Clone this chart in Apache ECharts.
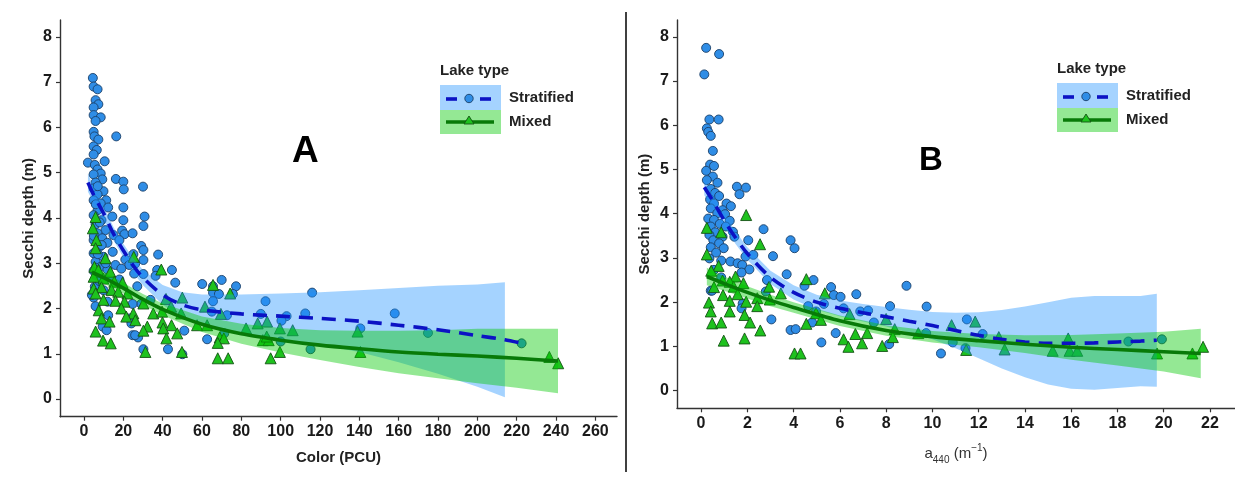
<!DOCTYPE html>
<html><head><meta charset="utf-8">
<script src="https://cdn.jsdelivr.net/npm/echarts@6/dist/echarts.min.js"></script>
<style>html,body{margin:0;padding:0;background:#fff;}#c{width:1235px;height:489px;}</style>
</head><body><div id="c"></div>
<script>
// ---------------- DATA ----------------
const xTicksA = [0,20,40,60,80,100,120,140,160,180,200,220,240,260];
const xTicksB = [0,2,4,6,8,10,12,14,16,18,20,22];
const yTicks = [0,1,2,3,4,5,6,7,8];
const legendTitle = 'Lake type';
const seriesNames = ['Stratified','Mixed'];

// Panel A: Color (PCU) vs Secchi depth
const stratifiedA = [[4.5,7.09],[4.9,6.9],[6.9,6.84],[5.9,6.6],[7.3,6.51],[4.9,6.44],[4.9,6.27],[8.5,6.22],[5.9,6.14],[16.4,5.8],[4.9,5.9],[5.3,5.8],[7.3,5.73],[4.9,5.58],[6.5,5.5],[4.9,5.4],[2.0,5.22],[10.5,5.25],[5.5,5.17],[6.9,5.07],[8.5,4.98],[4.9,4.96],[9.3,4.85],[16.2,4.86],[20,4.8],[20.2,4.63],[30,4.69],[5.9,4.78],[4.9,4.65],[9.9,4.59],[6.9,4.52],[11.3,4.39],[4.9,4.39],[8.5,4.32],[12.3,4.23],[20,4.23],[6.9,4.17],[4.9,4.06],[30.8,4.03],[14.4,4.03],[8.9,3.95],[20,3.95],[5.9,3.86],[30.2,3.82],[10.9,3.73],[19.4,3.72],[20.6,3.64],[24.7,3.66],[6.9,3.66],[15,3.62],[9.3,3.55],[4.9,3.51],[18,3.51],[11.9,3.45],[7.9,3.36],[29.1,3.38],[30.2,3.29],[14.6,3.25],[4.9,3.22],[25.1,3.2],[37.7,3.19],[9.9,3.14],[21,3.08],[30.2,3.07],[5.9,3.03],[16,2.96],[23,2.96],[26,2.99],[8.5,2.92],[19,2.88],[37.2,2.85],[44.7,2.85],[11.9,2.86],[4.9,2.83],[25.5,2.77],[30.2,2.76],[36.4,2.72],[6.9,2.69],[18,2.64],[46.4,2.57],[60.1,2.54],[70,2.63],[65.6,2.49],[77.3,2.49],[5.5,2.48],[27.1,2.49],[65.6,2.35],[68.6,2.32],[75.7,2.32],[116,2.35],[4.9,2.24],[33.8,2.19],[65.6,2.16],[92.3,2.16],[29.1,2.1],[24.7,2.1],[5.9,2.05],[65,1.93],[89.9,1.88],[72.7,1.85],[112.5,1.89],[103,1.83],[158,1.89],[12.3,1.85],[23.1,1.78],[100.4,1.73],[9.5,1.6],[24.1,1.67],[71.3,1.45],[174.9,1.46],[51,1.51],[24.7,1.41],[27.5,1.36],[62.6,1.32],[100,1.27],[30.2,1.1],[42.7,1.1],[115.2,1.1],[50,0.99],[222.5,1.23],[140.5,1.56],[7,4.7],[6,4.3],[8,3.9],[5,3.6],[9,3.4],[7,3.2],[11,3.0],[6,2.9],[13,2.7],[8,2.6],[10,2.4],[4,2.3],[12,2.15],[11.5,1.52],[26,1.41]];
const mixedA = [[5.9,4.02],[4.5,3.77],[6.3,3.51],[5.9,3.33],[10.9,3.11],[25.3,3.14],[5.3,2.92],[7.3,2.85],[39.3,2.86],[13.4,2.81],[4.9,2.7],[9.9,2.66],[15.4,2.59],[19.6,2.57],[4.9,2.44],[8.9,2.47],[65.6,2.52],[74.3,2.33],[14,2.41],[5.9,2.33],[17.4,2.37],[22.1,2.33],[41.7,2.21],[50,2.24],[9.9,2.19],[16,2.17],[20.6,2.15],[30.2,2.11],[44.3,2.04],[61.5,2.04],[7.5,1.96],[19,2.0],[25.1,1.89],[35.2,1.89],[49.4,1.89],[39.7,1.93],[69.6,1.88],[8.9,1.78],[21.5,1.82],[13,1.71],[26.1,1.74],[39.9,1.69],[44.5,1.63],[57.5,1.63],[62.6,1.63],[32.2,1.6],[40.3,1.56],[30.2,1.51],[82.4,1.56],[88.3,1.67],[93.1,1.71],[99.6,1.56],[106.1,1.52],[5.9,1.49],[47.4,1.45],[41.9,1.34],[69,1.36],[71.1,1.34],[68,1.24],[90.9,1.3],[93.9,1.3],[92.9,1.38],[139.1,1.49],[9.7,1.29],[13.6,1.23],[31.2,1.04],[49.8,1.04],[99.6,1.04],[140.5,1.04],[68,0.9],[73.3,0.9],[94.9,0.9],[236.6,0.93],[241.1,0.79]];

// Panel A loess fits and confidence half-widths
const strRibbonXA = [2,5,10,15,20,25,30,40,50,60,80,100,120,140,160,180,200,214];
const strFitA     = [4.78,4.5,4.1,3.65,3.28,2.95,2.68,2.3,2.08,1.97,1.88,1.83,1.78,1.72,1.63,1.53,1.4,1.31];
const strHalfA    = [0.2,0.17,0.15,0.15,0.15,0.16,0.17,0.22,0.28,0.34,0.43,0.5,0.58,0.68,0.82,0.97,1.13,1.27];
const strLineXA   = [2,5,10,15,20,25,30,40,50,60,80,100,120,140,160,180,200,214,222.5];
const strLineYA   = [4.78,4.5,4.1,3.65,3.28,2.95,2.68,2.3,2.08,1.97,1.88,1.83,1.78,1.72,1.63,1.53,1.4,1.31,1.23];
const mixXA   = [4,10,20,30,40,60,80,100,120,140,160,180,200,220,241];
const mixFitA = [2.8,2.68,2.45,2.2,1.98,1.65,1.44,1.3,1.19,1.11,1.04,0.99,0.95,0.9,0.84];
const mixHalfA= [0.15,0.13,0.12,0.12,0.13,0.17,0.22,0.27,0.33,0.4,0.47,0.53,0.6,0.65,0.71];

// Panel B: a440 vs Secchi depth
const stratifiedB = [[0.22,7.75],[0.78,7.61],[0.14,7.15],[0.36,6.13],[0.76,6.13],[0.25,5.93],[0.31,5.85],[0.42,5.76],[0.51,5.42],[0.39,5.11],[0.56,5.08],[0.22,4.97],[0.51,4.84],[0.25,4.76],[0.71,4.7],[1.55,4.61],[1.94,4.59],[1.66,4.44],[0.42,4.56],[0.61,4.47],[0.78,4.4],[0.39,4.32],[0.56,4.23],[1.1,4.23],[1.29,4.17],[0.42,4.12],[0.93,4.08],[0.7,4.01],[1.04,3.99],[0.31,3.89],[0.56,3.86],[1.24,3.84],[0.81,3.77],[0.42,3.71],[1.07,3.71],[2.7,3.65],[1.38,3.59],[0.61,3.58],[0.36,3.52],[0.93,3.48],[1.44,3.48],[0.53,3.4],[2.04,3.4],[3.87,3.4],[4.04,3.22],[0.78,3.33],[0.42,3.24],[0.98,3.22],[0.65,3.12],[1.92,3.03],[2.26,3.07],[3.11,3.04],[0.36,2.99],[0.87,2.94],[1.27,2.92],[1.58,2.88],[1.78,2.84],[0.56,2.73],[2.09,2.74],[1.75,2.67],[3.7,2.63],[0.87,2.56],[2.85,2.5],[4.86,2.5],[0.42,2.26],[2.8,2.24],[4.47,2.37],[5.62,2.34],[8.88,2.37],[5.74,2.16],[6.03,2.12],[6.71,2.18],[1.8,1.97],[4.63,1.91],[5.31,1.96],[8.17,1.91],[9.75,1.9],[6.16,1.86],[4.97,1.79],[6.88,1.79],[7.22,1.81],[1.75,1.86],[11.49,1.61],[3.04,1.61],[4.8,1.54],[7.47,1.54],[5.82,1.3],[3.87,1.37],[4.09,1.39],[12.17,1.28],[9.73,1.3],[5.2,1.09],[8.13,1.05],[10.88,1.09],[18.47,1.11],[19.92,1.16],[10.37,0.84],[11.43,0.96],[0.48,2.26]];
const mixedB = [[0.25,3.68],[0.25,3.08],[1.95,3.97],[0.87,3.58],[2.55,3.31],[0.76,2.82],[0.44,2.71],[4.55,2.52],[1.49,2.58],[0.93,2.49],[1.24,2.46],[1.83,2.43],[0.56,2.34],[1.41,2.35],[2.94,2.35],[3.45,2.2],[5.35,2.2],[0.95,2.16],[1.58,2.18],[2.43,2.09],[2.97,2.06],[0.34,1.99],[1.24,2.03],[1.95,2.01],[0.42,1.79],[1.24,1.79],[2.43,1.91],[1.88,1.71],[6.42,1.73],[4.97,1.75],[8.0,1.62],[0.48,1.52],[0.87,1.54],[2.12,1.54],[4.55,1.51],[5.18,1.6],[7.18,1.3],[6.67,1.28],[8.37,1.39],[10.83,1.48],[11.85,1.56],[2.56,1.36],[0.98,1.13],[1.88,1.18],[6.16,1.16],[6.37,0.99],[6.96,1.07],[7.83,1.01],[8.29,1.21],[12.87,1.21],[13.12,0.93],[15.2,0.9],[15.87,1.18],[15.93,0.9],[16.26,0.9],[11.46,0.92],[19.71,0.84],[21.24,0.84],[21.7,0.99],[4.04,0.84],[4.3,0.84],[9.39,1.3]];

const strXB   = [0.14,0.5,1,1.5,2,3,4,5,6,7,8,9,10,11,12,13,14,15,16,17,18,19,19.7];
const strFitB = [4.6,4.3,3.85,3.45,3.1,2.56,2.22,2.0,1.86,1.76,1.67,1.57,1.47,1.36,1.25,1.16,1.1,1.07,1.07,1.08,1.1,1.12,1.14];
const strHalfB= [0.18,0.16,0.15,0.14,0.14,0.15,0.16,0.17,0.18,0.2,0.22,0.26,0.31,0.4,0.52,0.66,0.8,0.93,1.03,1.06,1.04,1.02,1.05];
const mixXB   = [0.25,1,2,3,4,6,8,10,12,14,16,18,20,21.6];
const mixFitB = [2.58,2.42,2.22,2.04,1.88,1.58,1.36,1.22,1.13,1.05,0.98,0.93,0.88,0.84];
const mixHalfB= [0.2,0.16,0.14,0.13,0.12,0.12,0.12,0.13,0.15,0.2,0.28,0.36,0.45,0.56];

// ---------------- STYLE ----------------
const FONT = '"Liberation Sans", Arial, sans-serif';
const BLUE_PT = '#2f8de6', BLUE_EDGE = '#1b3f68';
const GREEN_PT = '#1ec21e', GREEN_EDGE = '#145214';
const BLUE_FILL = 'rgba(30,144,255,0.40)', GREEN_FILL = 'rgba(0,200,0,0.42)';
const BLUE_LINE = '#0c12c4', GREEN_LINE = '#087a08';

function ribbon(idx, xs, fit, half, fill) {
  return {
    type: 'custom', xAxisIndex: idx, yAxisIndex: idx, z: 3, silent: true, clip: true,
    data: xs.map((x, i) => [x, fit[i] - half[i], fit[i] + half[i]]),
    encode: { x: 0, y: [1, 2] },
    renderItem: function (params, api) {
      if (params.dataIndex !== 0) return null;
      const pts = [];
      for (let i = 0; i < xs.length; i++) pts.push(api.coord([xs[i], fit[i] + half[i]]));
      for (let i = xs.length - 1; i >= 0; i--) pts.push(api.coord([xs[i], fit[i] - half[i]]));
      return { type: 'polygon', shape: { points: pts }, style: { fill: fill } };
    }
  };
}
function fitLine(idx, xs, ys, color, dashed) {
  return {
    type: 'line', xAxisIndex: idx, yAxisIndex: idx, z: 4, silent: true,
    data: xs.map((x, i) => [x, ys[i]]), showSymbol: false, smooth: 0.3,
    lineStyle: { color: color, width: 3.6, type: dashed ? [14, 9] : 'solid' }
  };
}
function pts(idx, data, tri) {
  return {
    type: 'scatter', xAxisIndex: idx, yAxisIndex: idx, z: 2, silent: true,
    data: data, symbol: tri ? 'triangle' : 'circle', symbolSize: tri ? 11 : 9,
    itemStyle: { color: tri ? GREEN_PT : BLUE_PT, borderColor: tri ? GREEN_EDGE : BLUE_EDGE, borderWidth: 0.9, opacity: 1 }
  };
}
function xAxis(idx, min, max, ticks, name, nameGap, bold, rich) {
  return {
    gridIndex: idx, type: 'value', min: min, max: max,
    axisLine: { show: true, onZero: false, lineStyle: { color: '#333', width: 1.4 } },
    axisTick: { show: true, customValues: ticks, length: 4, lineStyle: { color: '#333', width: 1.2 } },
    axisLabel: { customValues: ticks, margin: 7, fontSize: 16, fontWeight: 'bold', color: '#1a1a1a', fontFamily: FONT },
    splitLine: { show: false },
    name: name, nameLocation: 'middle', nameGap: nameGap,
    nameTextStyle: Object.assign({ fontSize: 15, fontWeight: bold ? 'bold' : 'normal', color: '#222', fontFamily: FONT }, rich ? { rich: rich } : {})
  };
}
function yAxis(idx, min, max, gap) {
  return {
    gridIndex: idx, type: 'value', min: min, max: max,
    axisLine: { show: true, onZero: false, lineStyle: { color: '#333', width: 1.4 } },
    axisTick: { show: true, customValues: yTicks, length: 4, lineStyle: { color: '#333', width: 1.2 } },
    axisLabel: { customValues: yTicks, margin: 8, fontSize: 16, fontWeight: 'bold', color: '#1a1a1a', fontFamily: FONT },
    splitLine: { show: false },
    name: 'Secchi depth (m)', nameLocation: 'middle', nameRotate: 90, nameGap: gap,
    nameTextStyle: { fontSize: 15, fontWeight: 'bold', color: '#222', fontFamily: FONT }
  };
}
function legend(ox, oy) {
  const g = [];
  g.push({ type: 'text', left: ox, top: oy - 8, style: { text: legendTitle, font: 'bold 15px ' + FONT, fill: '#222' } });
  g.push({ type: 'rect', shape: { x: ox, y: oy + 14, width: 61, height: 25 }, style: { fill: 'rgba(30,144,255,0.40)' } });
  g.push({ type: 'rect', shape: { x: ox, y: oy + 39, width: 61, height: 24 }, style: { fill: 'rgba(0,200,0,0.42)' } });
  g.push({ type: 'line', shape: { x1: ox + 6, y1: oy + 28, x2: ox + 17, y2: oy + 28 }, style: { stroke: BLUE_LINE, lineWidth: 3.6 } });
  g.push({ type: 'line', shape: { x1: ox + 40, y1: oy + 28, x2: ox + 51, y2: oy + 28 }, style: { stroke: BLUE_LINE, lineWidth: 3.6 } });
  g.push({ type: 'circle', shape: { cx: ox + 29, cy: oy + 27.5, r: 4.2 }, style: { fill: BLUE_PT, stroke: BLUE_EDGE, lineWidth: 0.9 } });
  g.push({ type: 'line', shape: { x1: ox + 6, y1: oy + 51, x2: ox + 54, y2: oy + 51 }, style: { stroke: GREEN_LINE, lineWidth: 3.6 } });
  g.push({ type: 'polygon', shape: { points: [[ox + 29, oy + 45], [ox + 34, oy + 53], [ox + 24, oy + 53]] }, style: { fill: GREEN_PT, stroke: GREEN_EDGE, lineWidth: 0.9 } });
  g.push({ type: 'text', left: ox + 69, top: oy + 19, style: { text: seriesNames[0], font: 'bold 15px ' + FONT, fill: '#222' } });
  g.push({ type: 'text', left: ox + 69, top: oy + 43, style: { text: seriesNames[1], font: 'bold 15px ' + FONT, fill: '#222' } });
  return g;
}

const richB = {
  a: { fontSize: 15, color: '#333', lineHeight: 22, verticalAlign: 'middle', fontFamily: FONT },
  s: { fontSize: 10, color: '#333', lineHeight: 12, verticalAlign: 'bottom', fontFamily: FONT },
  p: { fontSize: 10, color: '#333', lineHeight: 12, verticalAlign: 'top', fontFamily: FONT }
};

const chart = echarts.init(document.getElementById('c'), null, { renderer: 'canvas' });
chart.setOption({
  animation: false,
  backgroundColor: '#fff',
  grid: [
    { left: 60, top: 20, width: 557, height: 396.7 },
    { left: 677, top: 20, width: 558, height: 388.3 }
  ],
  xAxis: [
    xAxis(0, -12.2, 271, xTicksA, 'Color (PCU)', 34, true),
    xAxis(1, -1.04, 23.08, xTicksB, '{a|a}{s|440}{a| (m}{p|−1}{a|)}', 35, false, richB)
  ],
  yAxis: [yAxis(0, -0.39, 8.37, 24), yAxis(1, -0.4, 8.38, 25)],
  series: [
    pts(0, stratifiedA, false), pts(0, mixedA, true),
    ribbon(0, strRibbonXA, strFitA, strHalfA, BLUE_FILL),
    ribbon(0, mixXA, mixFitA, mixHalfA, GREEN_FILL),
    fitLine(0, strLineXA, strLineYA, BLUE_LINE, true),
    fitLine(0, mixXA, mixFitA, GREEN_LINE, false),
    pts(1, stratifiedB, false), pts(1, mixedB, true),
    ribbon(1, strXB, strFitB, strHalfB, BLUE_FILL),
    ribbon(1, mixXB, mixFitB, mixHalfB, GREEN_FILL),
    fitLine(1, strXB, strFitB, BLUE_LINE, true),
    fitLine(1, mixXB, mixFitB, GREEN_LINE, false)
  ],
  graphic: [].concat(
    legend(440, 71),
    legend(1057, 69),
    [
      { type: 'text', left: 292, top: 133, style: { text: 'A', font: 'bold 37px ' + FONT, fill: '#000' } },
      { type: 'text', left: 919, top: 144, style: { text: 'B', font: 'bold 33px ' + FONT, fill: '#000' } },
      { type: 'line', shape: { x1: 626, y1: 12, x2: 626, y2: 472 }, style: { stroke: '#000', lineWidth: 1.5 } }
    ]
  )
});
</script></body></html>
